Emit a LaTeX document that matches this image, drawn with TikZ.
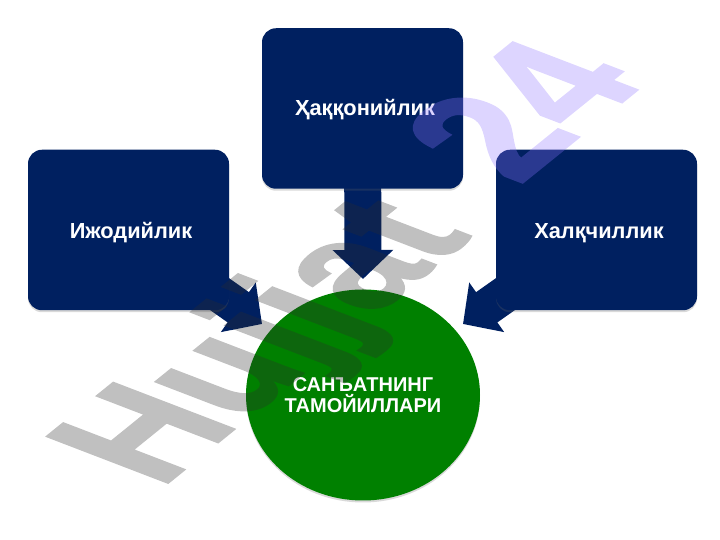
\documentclass[tikz,border=0pt]{standalone}
\usepackage{fontspec}
\setmainfont{Liberation Sans}
\usetikzlibrary{arrows.meta,backgrounds,shadows,shapes.geometric}
\definecolor{navy}{HTML}{002060}
\definecolor{grn}{HTML}{008000}
\definecolor{wmgray}{HTML}{2D2D2D}
\definecolor{wmblue}{HTML}{8D73FF}
\tikzset{
  softshadow/.style={drop shadow={shadow xshift=0pt,shadow yshift=-2pt,opacity=.25,fill=black!60}},
  panel/.style={fill=navy,rounded corners=14pt,minimum width=201pt,minimum height=160.5pt,inner sep=0pt,softshadow},
  panellabel/.style={text=white,font=\bfseries\fontsize{21.8}{25}\selectfont,inner sep=0pt,align=center},
  blockarrow/.style={navy,line width=37pt,-{Triangle[width=59pt,length=29pt]}},
  wmtext/.style={transform shape,anchor=base west,inner sep=0pt,font=\bfseries\fontsize{100}{100}\selectfont\addfontfeature{FakeBold=1.6}}
}
\begin{document}
\begin{tikzpicture}[x=1pt,y=1pt]
\useasboundingbox (0,0) rectangle (720,540);
\node[panel] (lbox) at (128.5,310) {};
\node[panel] (tbox) at (362.5,431.5) {};
\node[panel] (rbox) at (596.5,310) {};
\node[fill=grn,ellipse,minimum width=234pt,minimum height=211pt,inner sep=0pt,softshadow] (circ) at (363,145) {};
\coordinate (tipL) at (262,216);
\coordinate (tipT) at (363,261);
\coordinate (tipR) at (463,216);
\begin{scope}[on background layer]
\draw[blockarrow] (lbox.center) -- (tipL);
\draw[blockarrow] (tbox.center) -- (tipT);
\draw[blockarrow] (rbox.center) -- (tipR);
\end{scope}
\node[panellabel] (ll) at (131,307) {Ижодийлик};
\node[panellabel] (tl) at (365,430) {Ҳаққонийлик};
\node[panellabel] (rl) at (599,307) {Халқчиллик};
\node[panellabel,font=\bfseries\fontsize{20}{21}\selectfont] (cl) at (363,145) {САНЪАТНИНГ\\ТАМОЙИЛЛАРИ};
\begin{scope}[transparency group,opacity=.3]
\begin{scope}[cm={1.127,.912,-1.75,.672,(160,51)}]
\node[wmtext,text=wmgray] (wma) at (0,0) {Hujjat};
\end{scope}
\begin{scope}[cm={1.17,.945,-1.8,.69,(518,354)}]
\node[wmtext,text=wmblue] (wmb) at (0,0) {24};
\end{scope}
\end{scope}
\end{tikzpicture}
\end{document}
